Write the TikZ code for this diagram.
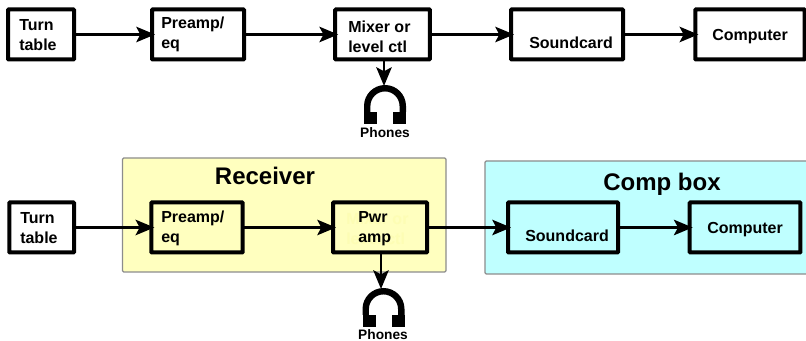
\documentclass[tikz,border=0pt]{standalone}
\usepackage{fontspec}
\setmainfont{Liberation Sans}
\usetikzlibrary{arrows.meta}
\tikzset{
  blockbox/.style={draw=black, line width=3pt, minimum height=37.5pt, inner sep=0pt, outer sep=0pt, rounded corners=0.5pt},
  blocktext/.style={font=\fontsize{12}{15}\selectfont\bfseries, align=left, inner sep=0pt, anchor=west},
  groupbox/.style={draw=black!45, line width=0.9pt, rounded corners=1pt},
  grouptitle/.style={font=\fontsize{18}{20}\selectfont\bfseries, inner sep=0pt, anchor=base},
  phonetext/.style={font=\fontsize{10.3}{12}\selectfont\bfseries, inner sep=0pt},
  sigline/.style={line width=2.2pt, shorten >=-2.25pt, -{Stealth[length=14pt, width=11.5pt, inset=3pt]}},
}
\definecolor{recvyellow}{HTML}{FFFFBF}
\definecolor{compcyan}{HTML}{BFFFFF}
\definecolor{ghostyellow}{HTML}{FDFDB4}
% one headphone glyph, drawn about its top middle
\newcommand{\phonesicon}[1]{
  \fill[black] (#1) ++(-21,27) -- ++(0,-6)
    arc[start angle=180, end angle=0, radius=15.75pt] -- ++(0,6)
    -- ++(-6.5,0) -- ++(0,-6)
    arc[start angle=0, end angle=180, radius=10.9pt] -- ++(0,6) -- cycle;
  \fill[black] (#1) ++(-21,27) rectangle ++(13,12);
  \fill[black] (#1) ++(21,27) rectangle ++(-13,12);
}
\begin{document}
\begin{tikzpicture}[x=0.75pt, y=-0.75pt]
  \useasboundingbox (0,0) rectangle (806,341);
  % Groups
  \draw[groupbox, fill=recvyellow] (122.5,158) rectangle (446,272);
  \draw[groupbox, fill=compcyan] (485,161) rectangle (812,274);
  \node[grouptitle] (recvtitle) at (265,185) {Receiver};
  \node[grouptitle] (comptitle) at (662,191) {Comp box};
  % Top row
  \node[blockbox, fill=white, minimum width=49.5pt] (tt1) at (41,34.5) {};
  \node[blockbox, fill=white, minimum width=69pt] (pre1) at (198,34.5) {};
  \node[blockbox, fill=white, minimum width=71pt] (mix1) at (382.5,34.5) {};
  \node[blockbox, fill=white, minimum width=84pt] (card1) at (567,34.5) {};
  \node[blockbox, fill=white, minimum width=82pt] (comp1) at (750,34.5) {};
  \node[blocktext] (tt1t) at (19,35) {Turn\\table};
  \node[blocktext] (pre1t) at (161,34) {Preamp/\\eq};
  \node[blocktext] (mix1t) at (348,37) {Mixer or\\level ctl};
  \node[blocktext] (card1t) at (529,43) {Soundcard};
  \node[blocktext] (comp1t) at (712,37) {Computer};
  % Bottom row
  \node[blockbox, fill=white, minimum width=48.5pt] (tt2) at (41.7,227.5) {};
  \node[blockbox, fill=recvyellow, minimum width=68.5pt] (pre2) at (197,227.5) {};
  \node[blockbox, fill=recvyellow, minimum width=70.5pt] (pwr2) at (380,227.5) {};
  \node[blockbox, fill=compcyan, minimum width=82.5pt] (card2) at (563,227.5) {};
  \node[blockbox, fill=compcyan, minimum width=83pt] (comp2) at (745,227.5) {};
  \node[blocktext] (tt2t) at (20,228) {Turn\\table};
  \node[blocktext] (pre2t) at (161,228) {Preamp/\\eq};
  \node[blocktext, text=ghostyellow] (ghost2t) at (346,229) {Mixer or\\level ctl};
  \node[blocktext] (pwr2t) at (358,229) {Pwr\\amp};
  \node[blocktext] (card2t) at (525,236) {Soundcard};
  \node[blocktext] (comp2t) at (707,230) {Computer};
  % Phones
  \coordinate (ph1) at (384,83);
  \coordinate (ph2) at (381,286);
  \coordinate (icon1) at (385,85);
  \coordinate (icon2) at (383.5,288);
  \phonesicon{icon1}
  \phonesicon{icon2}
  \node[phonetext] (ph1t) at (385,133) {Phones};
  \node[phonetext] (ph2t) at (383,335) {Phones};
  % Signal lines
  \draw[sigline] (tt1) -- (pre1);
  \draw[sigline] (pre1) -- (mix1);
  \draw[sigline] (mix1) -- (card1);
  \draw[sigline] (card1) -- (comp1);
  \draw[sigline] (mix1.south -| ph1) -- (ph1);
  \draw[sigline] (tt2) -- (pre2);
  \draw[sigline] (pre2) -- (pwr2);
  \draw[sigline] (pwr2) -- (card2);
  \draw[sigline] (card2) -- (comp2);
  \draw[sigline] (pwr2.south -| ph2) -- (ph2);
\end{tikzpicture}
\end{document}
